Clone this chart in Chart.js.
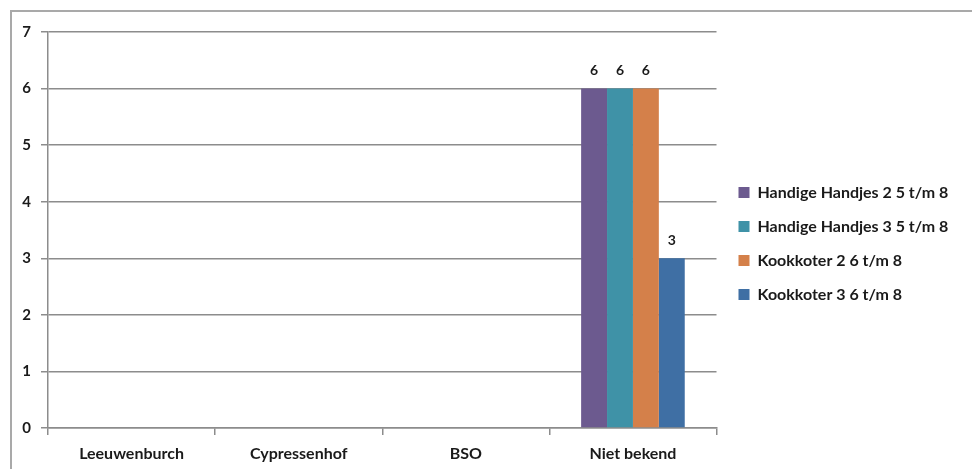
<!DOCTYPE html>
<html>
<head>
<meta charset="utf-8">
<script src="https://cdn.jsdelivr.net/npm/chart.js@4.4.1/dist/chart.umd.min.js"></script>
<style>
  body { margin: 0; background: #fff; }
  .frame { position: absolute; left: 10px; top: 10px; width: 962px; height: 459px;
           border-top: 2px solid #a9a9a9; border-left: 2px solid #a9a9a9; box-sizing: border-box; }
  .wrap { position: absolute; left: 0; top: 0; width: 972px; height: 469px; }
</style>
</head>
<body>
<div class="frame"></div>
<div class="wrap"><canvas id="chart"></canvas></div>
<script>
const categories = ["Leeuwenburch", "Cypressenhof", "BSO", "Niet bekend"];
const seriesNames = ["Handige Handjes 2 5 t/m 8", "Handige Handjes 3 5 t/m 8", "Kookkoter 2 6 t/m 8", "Kookkoter 3 6 t/m 8"];
const handjes2 = [0, 0, 0, 6];
const handjes3 = [0, 0, 0, 6];
const kookkoter2 = [0, 0, 0, 6];
const kookkoter3 = [0, 0, 0, 3];
const colors = ["#6c5a8f", "#3f92a7", "#d4804a", "#3f6fa4"];

const FONT = "Lato, 'Noto Sans', sans-serif";

// values above the bars, skip zeros
const valueLabels = {
  id: "valueLabels",
  afterDatasetsDraw(chart) {
    const ctx = chart.ctx;
    ctx.save();
    ctx.font = "bold 14px " + FONT;
    ctx.fillStyle = "#1a1a1a";
    ctx.textAlign = "center";
    ctx.textBaseline = "bottom";
    chart.data.datasets.forEach((ds, i) => {
      chart.getDatasetMeta(i).data.forEach((bar, j) => {
        if (!ds.data[j]) return;
        ctx.fillText(ds.data[j], bar.x, bar.y - 11);
      });
    });
    ctx.restore();
  }
};

// nudge legend up and right a bit
const legendShift = {
  id: "legendShift",
  afterLayout(chart) {
    chart.legend.top -= 7;
    chart.legend.bottom -= 7;
    chart.legend.left += 4;
    chart.legend.right += 4;
  }
};

const allSeries = [handjes2, handjes3, kookkoter2, kookkoter3];

new Chart(document.getElementById("chart"), {
  type: "bar",
  data: {
    labels: categories,
    datasets: allSeries.map((d, i) => ({
      label: seriesNames[i],
      data: d,
      backgroundColor: colors[i],
      borderWidth: 0,
      categoryPercentage: 0.62,
      barPercentage: 1,
    })),
  },
  options: {
    responsive: true,
    maintainAspectRatio: false,
    animation: false,
    layout: { padding: { left: 10, top: 32, right: 20, bottom: 0 } },
    plugins: {
      tooltip: { enabled: false },
      legend: {
        position: "right",
        align: "center",
        labels: {
          boxWidth: 11,
          boxHeight: 11,
          padding: 18,
          color: "#1a1a1a",
          font: { family: FONT, size: 16, weight: "bold" },
        },
      },
    },
    scales: {
      x: {
        grid: {
          offset: true,
          drawOnChartArea: false,
          drawTicks: true,
          tickLength: 7,
          color: "#8c8c8c",
          lineWidth: 1.5,
        },
        border: { color: "#8c8c8c", width: 1.5 },
        ticks: {
          color: "#1a1a1a",
          padding: 9,
          font: { family: FONT, size: 16, weight: "bold" },
        },
        afterFit(scale) { scale.height = 41; },
      },
      y: {
        min: 0,
        max: 7,
        ticks: {
          stepSize: 1,
          color: "#1a1a1a",
          padding: 10,
          font: { family: FONT, size: 15, weight: "bold" },
        },
        grid: {
          color: "#8c8c8c",
          lineWidth: 1.5,
          tickLength: 7,
        },
        border: { color: "#8c8c8c", width: 1.5 },
        afterFit(scale) { scale.width = 38; },
      },
    },
  },
  plugins: [valueLabels, legendShift],
});
</script>
</body>
</html>
